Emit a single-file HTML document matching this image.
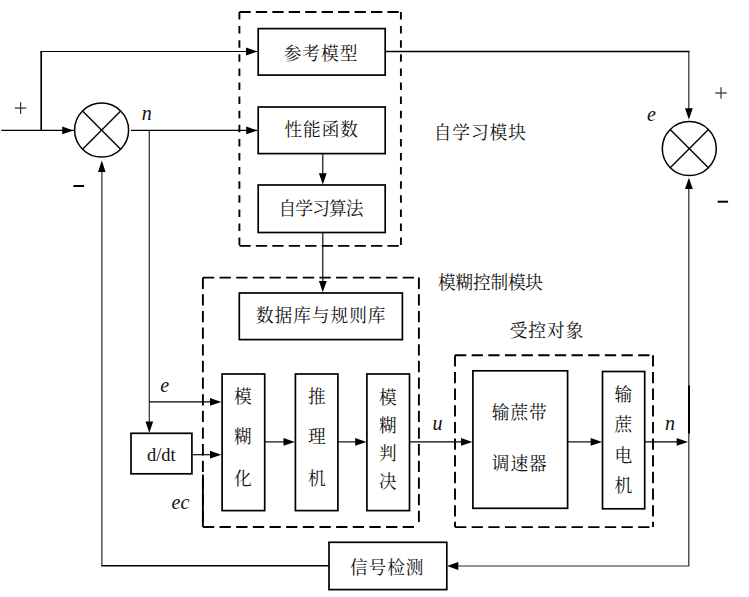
<!DOCTYPE html>
<html lang="zh"><head><meta charset="utf-8"><title>自学习模糊控制系统</title>
<style>html,body{margin:0;padding:0;background:#fff}svg{display:block}text{font-family:"Liberation Serif","Noto Serif CJK SC",serif;fill:#111}.c{font-size:17.7px;font-weight:400;letter-spacing:0.95px}.i{font-style:italic;font-size:20px}.l{stroke:#000;stroke-width:1.15;fill:none}.t{stroke:#2a2a2a;stroke-width:1.2;fill:none}.b{stroke:#000;stroke-width:1.7;fill:#fff}.d{stroke:#000;stroke-width:1.9;fill:none}.a{fill:#000;stroke:none}</style></head><body>
<svg width="749" height="597" viewBox="0 0 749 597">
<rect width="749" height="597" fill="#fff"/>
<line class="d" x1="239.4" y1="12.0" x2="400.9" y2="12.0" stroke-dasharray="11.30 5.15" stroke-dashoffset="0.00"/>
<line class="d" x1="400.9" y1="12.0" x2="400.9" y2="245.9" stroke-dasharray="7.50 6.60" stroke-dashoffset="0.00"/>
<line class="d" x1="239.4" y1="245.9" x2="400.9" y2="245.9" stroke-dasharray="11.30 5.15" stroke-dashoffset="0.00"/>
<line class="d" x1="239.4" y1="12.0" x2="239.4" y2="245.9" stroke-dasharray="7.50 6.60" stroke-dashoffset="0.00"/>
<line class="d" x1="202.9" y1="277.6" x2="418.9" y2="277.6" stroke-dasharray="11.30 5.35" stroke-dashoffset="0.00"/>
<line class="d" x1="418.9" y1="277.6" x2="418.9" y2="527.0" stroke-dasharray="11.30 5.35" stroke-dashoffset="0.00"/>
<line class="d" x1="202.9" y1="527.0" x2="418.9" y2="527.0" stroke-dasharray="11.30 5.35" stroke-dashoffset="0.00"/>
<line class="d" x1="202.9" y1="277.6" x2="202.9" y2="527.0" stroke-dasharray="11.30 5.35" stroke-dashoffset="0.00"/>
<polyline class="l" style="stroke-width:1.9" points="202.9,474.5 202.9,527.0"/>
<line class="d" x1="455.0" y1="355.3" x2="653.0" y2="355.3" stroke-dasharray="11.30 5.35" stroke-dashoffset="0.00"/>
<line class="d" x1="653.0" y1="355.3" x2="653.0" y2="527.1" stroke-dasharray="11.30 5.35" stroke-dashoffset="0.00"/>
<line class="d" x1="455.0" y1="527.1" x2="653.0" y2="527.1" stroke-dasharray="11.30 5.35" stroke-dashoffset="0.00"/>
<line class="d" x1="455.0" y1="355.3" x2="455.0" y2="527.1" stroke-dasharray="11.30 5.35" stroke-dashoffset="0.00"/>
<polyline class="l" points="1.3,130.4 74.0,130.4"/>
<polyline class="l" style="stroke-width:1.7" points="41.2,130.4 41.2,51.5"/>
<polyline class="l" style="stroke-width:1.2" points="40.4,51.5 257.0,51.5"/>
<polyline class="l" points="131.0,130.4 257.0,130.4"/>
<polyline class="l" style="stroke-width:1.5" points="385.5,51.6 689.6,51.6"/>
<polyline class="t" points="688.8,51.6 688.8,110.0"/>
<polyline class="t" points="149.3,130.4 149.3,425.0"/>
<polyline class="l" points="149.3,401.9 212.0,401.9"/>
<polyline class="l" points="191.9,454.7 212.0,454.7"/>
<polyline class="l" points="322.8,153.5 322.8,175.0"/>
<polyline class="l" points="322.8,232.5 322.8,283.0"/>
<polyline class="l" points="264.7,441.9 285.0,441.9"/>
<polyline class="l" points="337.8,441.9 358.0,441.9"/>
<polyline class="l" points="409.5,441.9 463.0,441.9"/>
<polyline class="l" points="567.5,441.9 593.0,441.9"/>
<polyline class="l" points="644.7,441.9 678.0,441.9"/>
<polyline class="t" points="688.8,186.0 688.8,566.0 456.0,566.0"/>
<polyline class="l" style="stroke-width:1.5" points="329.0,565.8 101.3,565.8"/>
<polyline class="t" points="101.9,565.8 101.9,170.0"/>
<polyline class="l" style="stroke-width:2" points="689.0,385.6 689.0,433.6"/>
<polygon class="a" points="73.5,130.4 62.2,126.6 62.2,134.2"/>
<polygon class="a" points="257.3,51.5 246.0,47.6 246.0,55.4"/>
<polygon class="a" points="257.5,130.4 246.2,126.6 246.2,134.2"/>
<polygon class="a" points="688.9,119.5 685.0,108.2 692.8,108.2"/>
<polygon class="a" points="688.9,177.8 685.0,189.1 692.8,189.1"/>
<polygon class="a" points="101.8,160.6 98.0,171.9 105.6,171.9"/>
<polygon class="a" points="149.3,432.8 145.5,421.5 153.2,421.5"/>
<polygon class="a" points="221.3,401.9 210.0,398.0 210.0,405.8"/>
<polygon class="a" points="221.3,454.7 210.0,450.8 210.0,458.6"/>
<polygon class="a" points="322.8,184.5 318.9,173.2 326.7,173.2"/>
<polygon class="a" points="322.8,292.3 318.9,281.0 326.7,281.0"/>
<polygon class="a" points="294.8,441.9 283.5,438.0 283.5,445.8"/>
<polygon class="a" points="366.5,441.9 355.2,438.0 355.2,445.8"/>
<polygon class="a" points="472.3,441.9 461.0,438.0 461.0,445.8"/>
<polygon class="a" points="602.0,441.9 590.7,438.0 590.7,445.8"/>
<polygon class="a" points="688.0,441.9 676.7,438.0 676.7,445.8"/>
<polygon class="a" points="447.0,566.0 458.3,562.1 458.3,569.9"/>
<circle class="b" cx="101.6" cy="130.1" r="27.0" style="stroke-width:1.5"/>
<polyline class="l" style="stroke-width:1.4" points="82.5,111.0 120.7,149.2"/>
<polyline class="l" style="stroke-width:1.4" points="82.5,149.2 120.7,111.0"/>
<circle class="b" cx="689.3" cy="148.6" r="27.0" style="stroke-width:1.5"/>
<polyline class="l" style="stroke-width:1.4" points="670.2,129.5 708.4,167.7"/>
<polyline class="l" style="stroke-width:1.4" points="670.2,167.7 708.4,129.5"/>
<rect class="b" x="258.2" y="28.6" width="127.0" height="46.5"/>
<rect class="b" x="258.2" y="107.0" width="127.0" height="46.6"/>
<rect class="b" x="258.2" y="185.0" width="127.0" height="47.5"/>
<rect class="b" x="239.3" y="293.0" width="163.1" height="46.6"/>
<rect class="b" x="222.1" y="374.0" width="42.6" height="136.6"/>
<rect class="b" x="295.4" y="374.0" width="42.5" height="136.6"/>
<rect class="b" x="366.9" y="374.0" width="42.6" height="136.6"/>
<rect class="b" x="472.9" y="370.8" width="94.7" height="137.5"/>
<rect class="b" x="602.5" y="371.5" width="42.2" height="137.3"/>
<rect class="b" x="131.0" y="433.3" width="60.9" height="40.5"/>
<rect class="b" x="329.0" y="542.3" width="117.8" height="47.3"/>
<text class="c" x="321.0" y="60.0" text-anchor="middle">参考模型</text>
<text class="c" x="321.7" y="135.5" text-anchor="middle">性能函数</text>
<text class="c" x="321.5" y="215.3" text-anchor="middle" textLength="86" lengthAdjust="spacing">自学习算法</text>
<text class="c" x="480.3" y="139.3" text-anchor="middle">自学习模块</text>
<text class="c" x="491.0" y="288.5" text-anchor="middle" textLength="106" lengthAdjust="spacing">模糊控制模块</text>
<text class="c" x="547.0" y="336.5" text-anchor="middle">受控对象</text>
<text class="c" x="321.2" y="321.5" text-anchor="middle">数据库与规则库</text>
<text class="c" x="519.8" y="418.5" text-anchor="middle">输蔗带</text>
<text class="c" x="519.8" y="469.5" text-anchor="middle">调速器</text>
<text class="c" x="387.2" y="574.0" text-anchor="middle">信号检测</text>
<text class="c" x="243.2" y="402.5" text-anchor="middle">模</text>
<text class="c" x="243.2" y="442.5" text-anchor="middle">糊</text>
<text class="c" x="243.2" y="485.0" text-anchor="middle">化</text>
<text class="c" x="317.4" y="402.5" text-anchor="middle">推</text>
<text class="c" x="317.4" y="442.5" text-anchor="middle">理</text>
<text class="c" x="317.4" y="485.0" text-anchor="middle">机</text>
<text class="c" x="388.2" y="404.0" text-anchor="middle">模</text>
<text class="c" x="388.2" y="432.2" text-anchor="middle">糊</text>
<text class="c" x="388.2" y="459.8" text-anchor="middle">判</text>
<text class="c" x="388.2" y="488.3" text-anchor="middle">决</text>
<text class="c" x="623.8" y="401.0" text-anchor="middle">输</text>
<text class="c" x="623.8" y="431.0" text-anchor="middle">蔗</text>
<text class="c" x="623.8" y="462.0" text-anchor="middle">电</text>
<text class="c" x="623.8" y="491.5" text-anchor="middle">机</text>
<text class="c" x="161.3" y="461.2" text-anchor="middle" style="font-size:18.4px;letter-spacing:0">d/dt</text>
<text class="i" x="146.7" y="120.0" text-anchor="middle">n</text>
<text class="i" x="651.5" y="121.0" text-anchor="middle">e</text>
<text class="i" x="164.7" y="392.3" text-anchor="middle">e</text>
<text class="i" x="180.5" y="509.4" text-anchor="middle">ec</text>
<text class="i" x="437.5" y="430.2" text-anchor="middle">u</text>
<text class="i" x="670.0" y="429.8" text-anchor="middle">n</text>
<polyline class="t" style="stroke:#555;stroke-width:1.5" points="14.8,108.1 26.4,108.1"/>
<polyline class="t" style="stroke:#333;stroke-width:1.2" points="20.6,102.3 20.6,113.9"/>
<polyline class="t" style="stroke:#555;stroke-width:1.5" points="715.2,93.0 726.8,93.0"/>
<polyline class="t" style="stroke:#333;stroke-width:1.2" points="721.0,87.2 721.0,98.8"/>
<polyline class="l" style="stroke-width:2" points="73.4,186.0 84.1,186.0"/>
<polyline class="l" style="stroke-width:2" points="717.7,201.7 728.1,201.7"/>
</svg></body></html>
